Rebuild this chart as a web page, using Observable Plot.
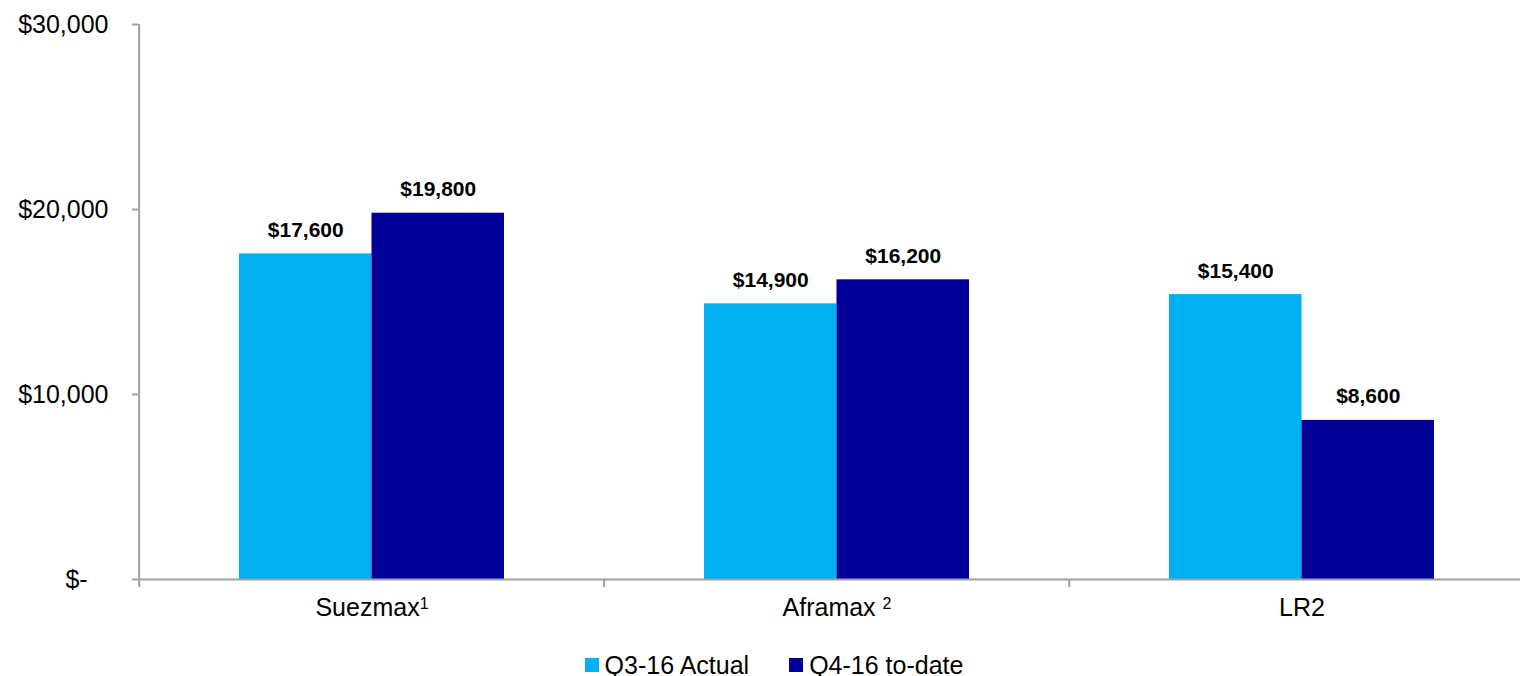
<!DOCTYPE html>
<html>
<head>
<meta charset="utf-8">
<script src="https://cdn.jsdelivr.net/npm/d3@7"></script>
<script src="https://cdn.jsdelivr.net/npm/@observablehq/plot@0.6"></script>
<style>
  html, body { margin: 0; padding: 0; background: #fff; }
  body { position: relative; width: 1520px; height: 676px; overflow: hidden; font-family: "Liberation Sans", Arial, sans-serif; }
  #chart { position: absolute; left: 0; top: 0; }
  #legend { position: absolute; left: 0; width: 1520px; top: 654px; height: 22px; line-height: 22px; display: flex; justify-content: center; align-items: center; gap: 40px; font-size: 25px; color: #000; padding-left: 28px; box-sizing: border-box; }
  .item { display: flex; align-items: center; gap: 6px; }
  .sw { width: 14px; height: 14px; display: inline-block; }
</style>
</head>
<body>
<div id="chart"></div>
<div id="legend"></div>
<script>
const categories = ["Suezmax¹", "Aframax ²", "LR2"];
const q3Actual = [17600, 14900, 15400];
const q4ToDate = [19800, 16200, 8600];
const seriesNames = ["Q3-16 Actual", "Q4-16 to-date"];
const colors = ["#00B0F0", "#000099"];
const yTicks = [0, 10000, 20000, 30000];

const W = 1520, H = 630;
const mL = 138, mR = -15, mT = 24, mB = 51;
const padIn = 0.431, padOut = padIn / 2;
const step = (W - mL - mR) / categories.length;
const bw = step * (1 - padIn);

const rows = categories.map((c, i) => ({cat: c, q3: q3Actual[i], q4: q4ToDate[i]}));
const fmt = v => v === 0 ? "$-\u00a0\u00a0\u00a0" : "$" + d3.format(",")(v);
const axisColor = "#a0a0a0";

const chart = Plot.plot({
  width: W, height: H,
  marginLeft: mL, marginRight: mR, marginTop: mT, marginBottom: mB,
  style: {fontFamily: "Liberation Sans, Arial, sans-serif", background: "#fff", color: "#000"},
  x: {domain: categories, paddingInner: padIn, paddingOuter: padOut, axis: null, label: null},
  y: {domain: [0, 30000], axis: null, label: null},
  marks: [
    Plot.barY(rows, {x: "cat", y: "q3", fill: colors[0], insetRight: bw / 2}),
    Plot.barY(rows, {x: "cat", y: "q4", fill: colors[1], insetLeft: bw / 2}),
    Plot.text(rows, {x: "cat", y: "q3", text: d => "$" + d3.format(",")(d.q3), dx: -bw / 4, dy: -17, lineAnchor: "bottom", fontSize: 21, fontWeight: "bold", fill: "#000"}),
    Plot.text(rows, {x: "cat", y: "q4", text: d => "$" + d3.format(",")(d.q4), dx: bw / 4, dy: -17, lineAnchor: "bottom", fontSize: 21, fontWeight: "bold", fill: "#000"}),
    Plot.ruleY([0], {stroke: axisColor, strokeWidth: 2}),
    Plot.ruleX([categories[0]], {x: d => d, y1: 0, y2: 30000, dx: -step / 2, stroke: axisColor, strokeWidth: 2}),
    Plot.ruleX(categories, {x: d => d, y1: 0, y2: 0, insetTop: 8, dx: -step / 2, stroke: axisColor, strokeWidth: 2}),
    Plot.axisY({ticks: yTicks, tickSize: 6, tickPadding: 24, tickFormat: fmt, fontSize: 25, stroke: axisColor, strokeWidth: 2, fill: "#000", label: null}),
    Plot.axisX({tickSize: 0, tickPadding: 19, fontSize: 25, fill: "#000", label: null, ariaLabel: "x-axis"})
  ]
});
document.getElementById("chart").appendChild(chart);

// render superscript footnote markers as raised tspans
const sup = {"¹": "1", "²": "2"};
d3.select(chart).selectAll("g[aria-label='x-axis'] text, g[aria-label='x-axis tick label'] text").each(function () {
  const t = this.textContent;
  const m = t.match(/[¹²]$/);
  if (!m) return;
  const base = t.slice(0, -1);
  const sel = d3.select(this);
  sel.text(null);
  sel.append("tspan").text(base);
  sel.append("tspan").attr("dy", "-0.45em").attr("font-size", "16px").text(sup[m[0]]);
});

const legend = document.getElementById("legend");
seriesNames.forEach((n, i) => {
  const it = document.createElement("div");
  it.className = "item";
  it.innerHTML = `<span class="sw" style="background:${colors[i]}"></span><span>${n}</span>`;
  legend.appendChild(it);
});
</script>
</body>
</html>
